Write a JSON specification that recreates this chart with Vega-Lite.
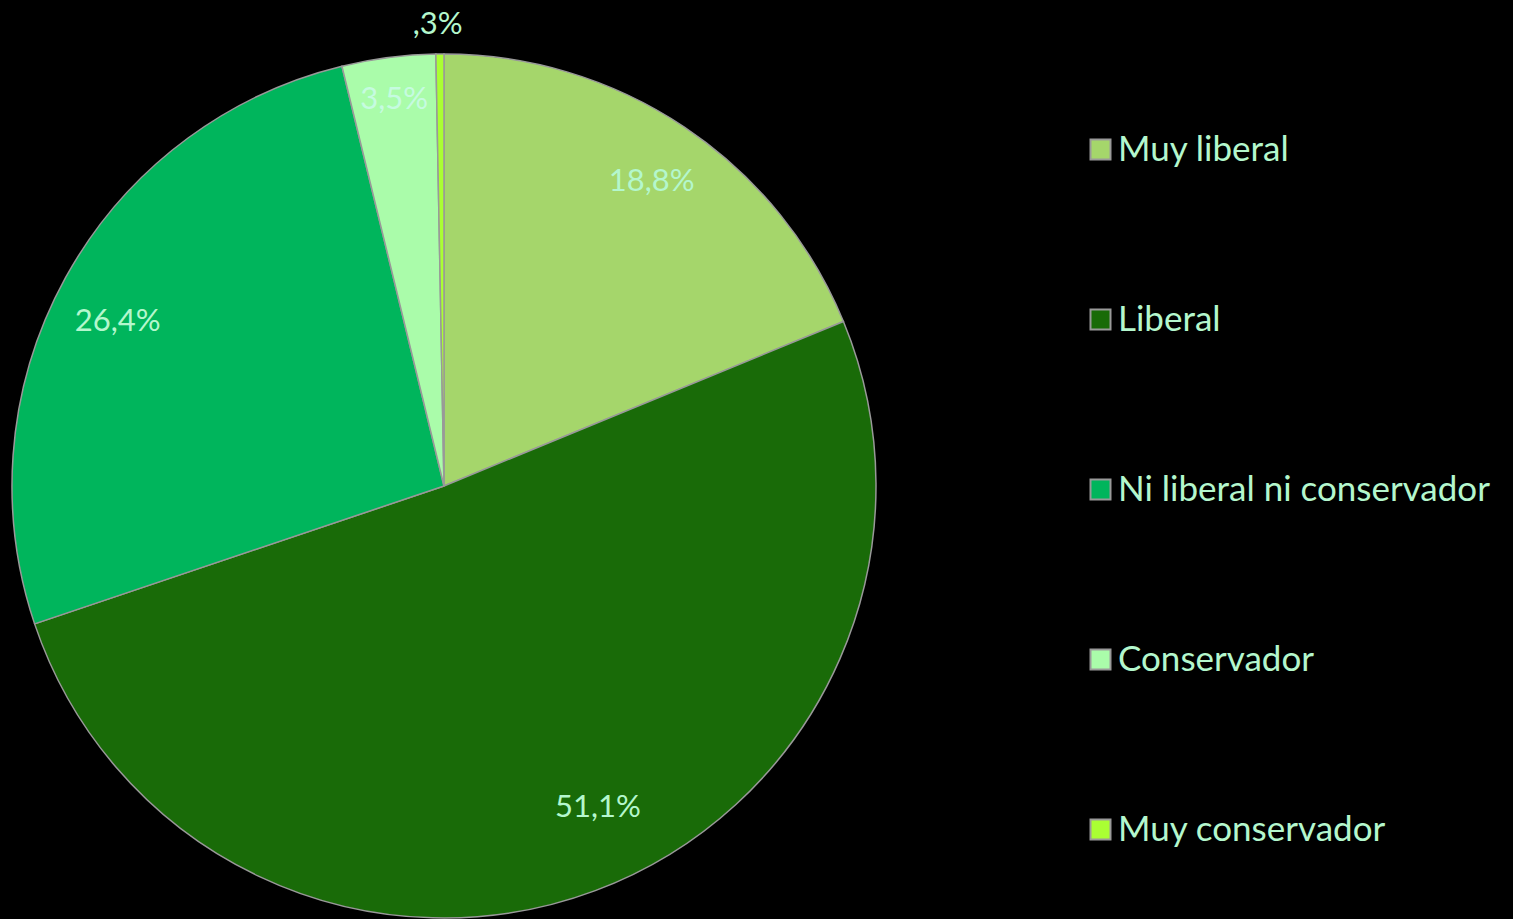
{
  "$schema": "https://vega.github.io/schema/vega-lite/v6.json",
  "autosize": "none",
  "width": 864,
  "height": 864,
  "padding": {"left": 12, "top": 54, "right": 637, "bottom": 1},
  "background": "#000000",
  "data": {
    "values": [
      {"categoria": "Muy liberal", "pct": 18.8, "etiqueta": "18,8%", "orden": 1},
      {"categoria": "Liberal", "pct": 51.1, "etiqueta": "51,1%", "orden": 2},
      {"categoria": "Ni liberal ni conservador", "pct": 26.4, "etiqueta": "26,4%", "orden": 3},
      {"categoria": "Conservador", "pct": 3.5, "etiqueta": "3,5%", "orden": 4},
      {"categoria": "Muy conservador", "pct": 0.3, "etiqueta": ",3%", "orden": 5}
    ]
  },
  "encoding": {
    "theta": {"field": "pct", "type": "quantitative", "stack": true},
    "order": {"field": "orden", "type": "quantitative"},
    "color": {
      "field": "categoria",
      "type": "nominal",
      "sort": ["Muy liberal", "Liberal", "Ni liberal ni conservador", "Conservador", "Muy conservador"],
      "scale": {
        "domain": ["Muy liberal", "Liberal", "Ni liberal ni conservador", "Conservador", "Muy conservador"],
        "range": ["#a5d66b", "#196b08", "#00b55c", "#aafcaa", "#aaff33"]
      },
      "legend": {
        "title": null,
        "orient": "none",
        "legendX": 1071,
        "legendY": 78,
        "symbolType": "square",
        "symbolSize": 400,
        "symbolStrokeColor": "#999999",
        "symbolStrokeWidth": 2,
        "symbolOpacity": 1,
        "labelFont": "Lato",
        "labelFontSize": 35,
        "labelColor": "#b4f7cd",
        "labelLimit": 600,
        "labelOffset": 0,
        "rowPadding": 134
      }
    }
  },
  "layer": [
    {
      "mark": {"type": "arc", "outerRadius": 432, "stroke": "#999999", "strokeWidth": 1.5}
    },
    {
      "mark": {"type": "text", "radius": 368, "font": "Lato", "fontSize": 31, "align": "center", "baseline": "middle", "dx": 3, "dy": 2},
      "encoding": {
        "text": {"condition": {"test": "datum.orden == 1", "field": "etiqueta"}, "value": ""},
        "color": {"value": "#b4f7cd"}
      }
    },
    {
      "mark": {"type": "text", "radius": 368, "font": "Lato", "fontSize": 31, "align": "center", "baseline": "middle", "dx": 25, "dy": -23},
      "encoding": {
        "text": {"condition": {"test": "datum.orden == 2", "field": "etiqueta"}, "value": ""},
        "color": {"value": "#b4f7cd"}
      }
    },
    {
      "mark": {"type": "text", "radius": 368, "font": "Lato", "fontSize": 31, "align": "center", "baseline": "middle", "dx": -4, "dy": 14},
      "encoding": {
        "text": {"condition": {"test": "datum.orden == 3", "field": "etiqueta"}, "value": ""},
        "color": {"value": "#b4f7cd"}
      }
    },
    {
      "mark": {"type": "text", "radius": 389, "font": "Lato", "fontSize": 31, "align": "center", "baseline": "middle"},
      "encoding": {
        "text": {"condition": {"test": "datum.orden == 4", "field": "etiqueta"}, "value": ""},
        "color": {"value": "#c6fbe0"}
      }
    },
    {
      "mark": {"type": "text", "radius": 461, "font": "Lato", "fontSize": 31, "align": "center", "baseline": "middle", "dx": -2},
      "encoding": {
        "text": {"condition": {"test": "datum.orden == 5", "field": "etiqueta"}, "value": ""},
        "color": {"value": "#b4f7cd"}
      }
    }
  ],
  "config": {"view": {"stroke": null}}
}
